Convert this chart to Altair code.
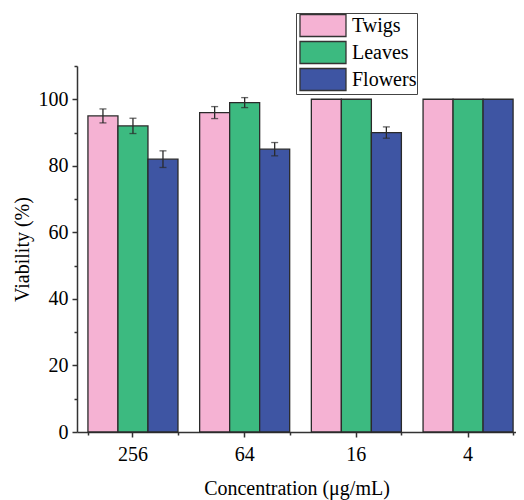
import altair as alt
import pandas as pd

concentrations = ["256", "64", "16", "4"]
types = ["Twigs", "Leaves", "Flowers"]
twigs = [95.0, 96.0, 100.0, 100.0]
twigs_err = [2.1, 1.8, 0.0, 0.0]
leaves = [92.0, 99.0, 100.0, 100.0]
leaves_err = [2.3, 1.5, 0.0, 0.0]
flowers = [82.0, 85.0, 90.0, 100.0]
flowers_err = [2.5, 2.0, 1.7, 0.0]
colors = ["#F5B2D3", "#3CBA80", "#3E55A3"]

rows = []
for t, vals, errs in [("Twigs", twigs, twigs_err), ("Leaves", leaves, leaves_err), ("Flowers", flowers, flowers_err)]:
    for c, v, e in zip(concentrations, vals, errs):
        rows.append({"conc": c, "type": t, "value": v, "err": e, "lo": v - e, "hi": v + e})
df = pd.DataFrame(rows)
err_df = df[df["err"] > 0]

FONT = "Liberation Serif"
AX = "#333333"

xscale = alt.Scale(paddingInner=0.194, paddingOuter=0.062, align=0.79)
yscale = alt.Scale(domain=[0, 110], nice=False)

xaxis_main = alt.Axis(
    title="Concentration (μg/mL)", labelAngle=0, tickSize=5, labelPadding=7,
    titlePadding=14, grid=False, orient="bottom",
)
xaxis_minor = alt.Axis(
    title="", labels=False, domain=False, tickBand="extent", tickSize=3,
    grid=False, orient="bottom",
)
yaxis = alt.Axis(
    title="Viability (%)",
    values=list(range(0, 111, 10)),
    labelExpr="datum.value % 20 === 0 ? datum.label : ''",
    tickSize={"condition": {"test": "datum.value % 20 === 0", "value": 5}, "value": 3},
    labelPadding=4, titlePadding=6, grid=False,
)

bars = alt.Chart(df).mark_bar(stroke="#2a2a2a", strokeWidth=1.3).encode(
    x=alt.X("conc:N", sort=concentrations, scale=xscale, axis=xaxis_main),
    xOffset=alt.XOffset("type:N", sort=types),
    y=alt.Y("value:Q", scale=yscale, axis=yaxis),
    color=alt.Color(
        "type:N", sort=types,
        scale=alt.Scale(domain=types, range=colors),
        legend=alt.Legend(
            title=None, orient="none", legendX=219, legendY=-53,
            symbolType="M-0.74,-0.956L3.26,-0.956L3.26,0.956L-0.74,0.956Z",
            symbolSize=529, symbolStrokeColor="#333333", symbolStrokeWidth=1.3,
            symbolOpacity=1,
            labelFont=FONT, labelFontSize=20, labelColor="black", labelOffset=31,
            labelExpr="datum.label + ' '",
            padding=0, rowPadding=-3.8, strokeColor="#444444", fillColor="white",
        ),
    ),
)

err_rule = alt.Chart(err_df).mark_rule(color="#2a2a2a", strokeWidth=1.3).encode(
    x=alt.X("conc:N", sort=concentrations, scale=xscale, axis=None),
    xOffset=alt.XOffset("type:N", sort=types, scale=alt.Scale(domain=types)),
    y=alt.Y("lo:Q", scale=yscale, axis=yaxis),
    y2="hi:Q",
)

err_lo = alt.Chart(err_df).mark_tick(color="#2a2a2a", thickness=1.3, size=7).encode(
    x=alt.X("conc:N", sort=concentrations, scale=xscale, axis=None),
    xOffset=alt.XOffset("type:N", sort=types, scale=alt.Scale(domain=types)),
    y=alt.Y("lo:Q", scale=yscale, axis=yaxis),
)
err_hi = alt.Chart(err_df).mark_tick(color="#2a2a2a", thickness=1.3, size=7).encode(
    x=alt.X("conc:N", sort=concentrations, scale=xscale, axis=xaxis_minor),
    xOffset=alt.XOffset("type:N", sort=types, scale=alt.Scale(domain=types)),
    y=alt.Y("hi:Q", scale=yscale, axis=yaxis),
)

chart = alt.layer(bars, err_rule, err_lo, err_hi).resolve_axis(x="independent").properties(
    width=439, height=366,
    autosize=alt.AutoSizeParams(type="none"),
    padding={"left": 69, "top": 58, "right": 0, "bottom": 76},
).configure_view(strokeWidth=0).configure_axis(
    labelFont=FONT, titleFont=FONT, labelFontSize=20, titleFontSize=20,
    titleFontWeight="normal", labelColor="black", titleColor="black",
    domainColor=AX, tickColor=AX, domainWidth=1.5, tickWidth=1.5,
)

chart.save("out.html", embed_options={"renderer": "svg", "actions": False})
